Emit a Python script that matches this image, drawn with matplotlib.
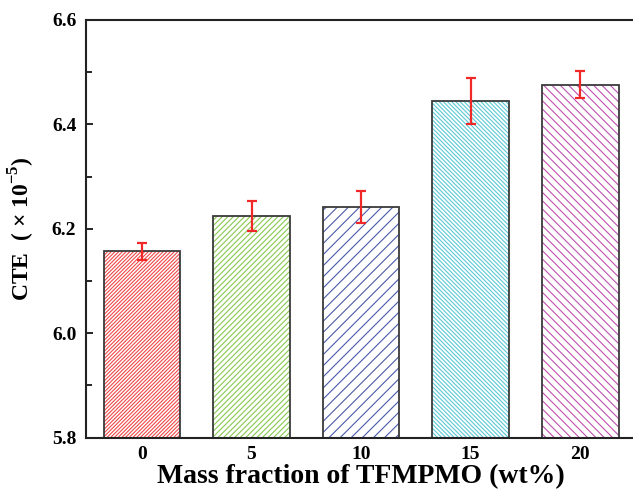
import numpy as np
import matplotlib as mpl
mpl.use("Agg")
import matplotlib.pyplot as plt

# Data
fractions = ["0", "5", "10", "15", "20"]
cte = [6.157, 6.224, 6.242, 6.444, 6.476]
cte_err = [0.016, 0.029, 0.031, 0.044, 0.026]
hatch_colors = ["#f04848", "#88c850", "#4a5aa8", "#5cc8d4", "#c050b0"]
hatches = ["/" * 9, "/" * 6, "/" * 3, "\\" * 8, "\\" * 4]

plt.rcParams['font.family'] = ['Liberation Serif', 'DejaVu Serif']
plt.rcParams['font.weight'] = 'bold'
plt.rcParams['mathtext.fontset'] = 'custom'
plt.rcParams['mathtext.rm'] = 'Liberation Serif:bold'
plt.rcParams['mathtext.bf'] = 'Liberation Serif:bold'
plt.rcParams['hatch.linewidth'] = 0.8

fig = plt.figure(figsize=(6.33, 4.91), dpi=100)
ax = fig.add_axes([0.1359, 0.1086, 0.8691, 0.8507])

x = np.arange(len(fractions))
# hatch layer
for i in range(len(x)):
    ax.bar(x[i], cte[i] - 5.8, bottom=5.8, width=0.7, facecolor='none',
           edgecolor=hatch_colors[i], hatch=hatches[i], linewidth=0)
# outline layer
ax.bar(x, np.array(cte) - 5.8, bottom=5.8, width=0.7, facecolor='none',
       edgecolor='#3a3a3a', linewidth=1.3)
ax.errorbar(x, cte, yerr=cte_err, fmt='none', ecolor='#f02828',
            elinewidth=1.6, capsize=3.5, capthick=1.6)

ax.set_xlim(-0.51, 4.51)
ax.set_ylim(5.8, 6.6)
ax.set_xticks(x)
ax.set_xticklabels(fractions)
ax.set_yticks([5.8, 6.0, 6.2, 6.4, 6.6])
ax.set_yticks([5.9, 6.1, 6.3, 6.5], minor=True)
ax.yaxis.set_major_formatter(mpl.ticker.FormatStrFormatter('%.1f'))
ax.tick_params(axis='y', which='major', direction='in', length=5, width=1.2,
               labelsize=14, pad=7)
ax.tick_params(axis='y', which='minor', direction='in', length=4, width=1.2)
ax.tick_params(axis='x', length=0, labelsize=14, pad=6)
for s in ax.spines.values():
    s.set_linewidth(1.5)
    s.set_color('#222222')

ax.set_xlabel("Mass fraction of TFMPMO (wt%)", fontsize=20, fontweight='bold',
              labelpad=1)
ax.set_ylabel(r"CTE  ( $\times$ 10$^{-5}$)", fontsize=17, fontweight='bold',
              labelpad=11)

fig.savefig("out.png", dpi=100)
